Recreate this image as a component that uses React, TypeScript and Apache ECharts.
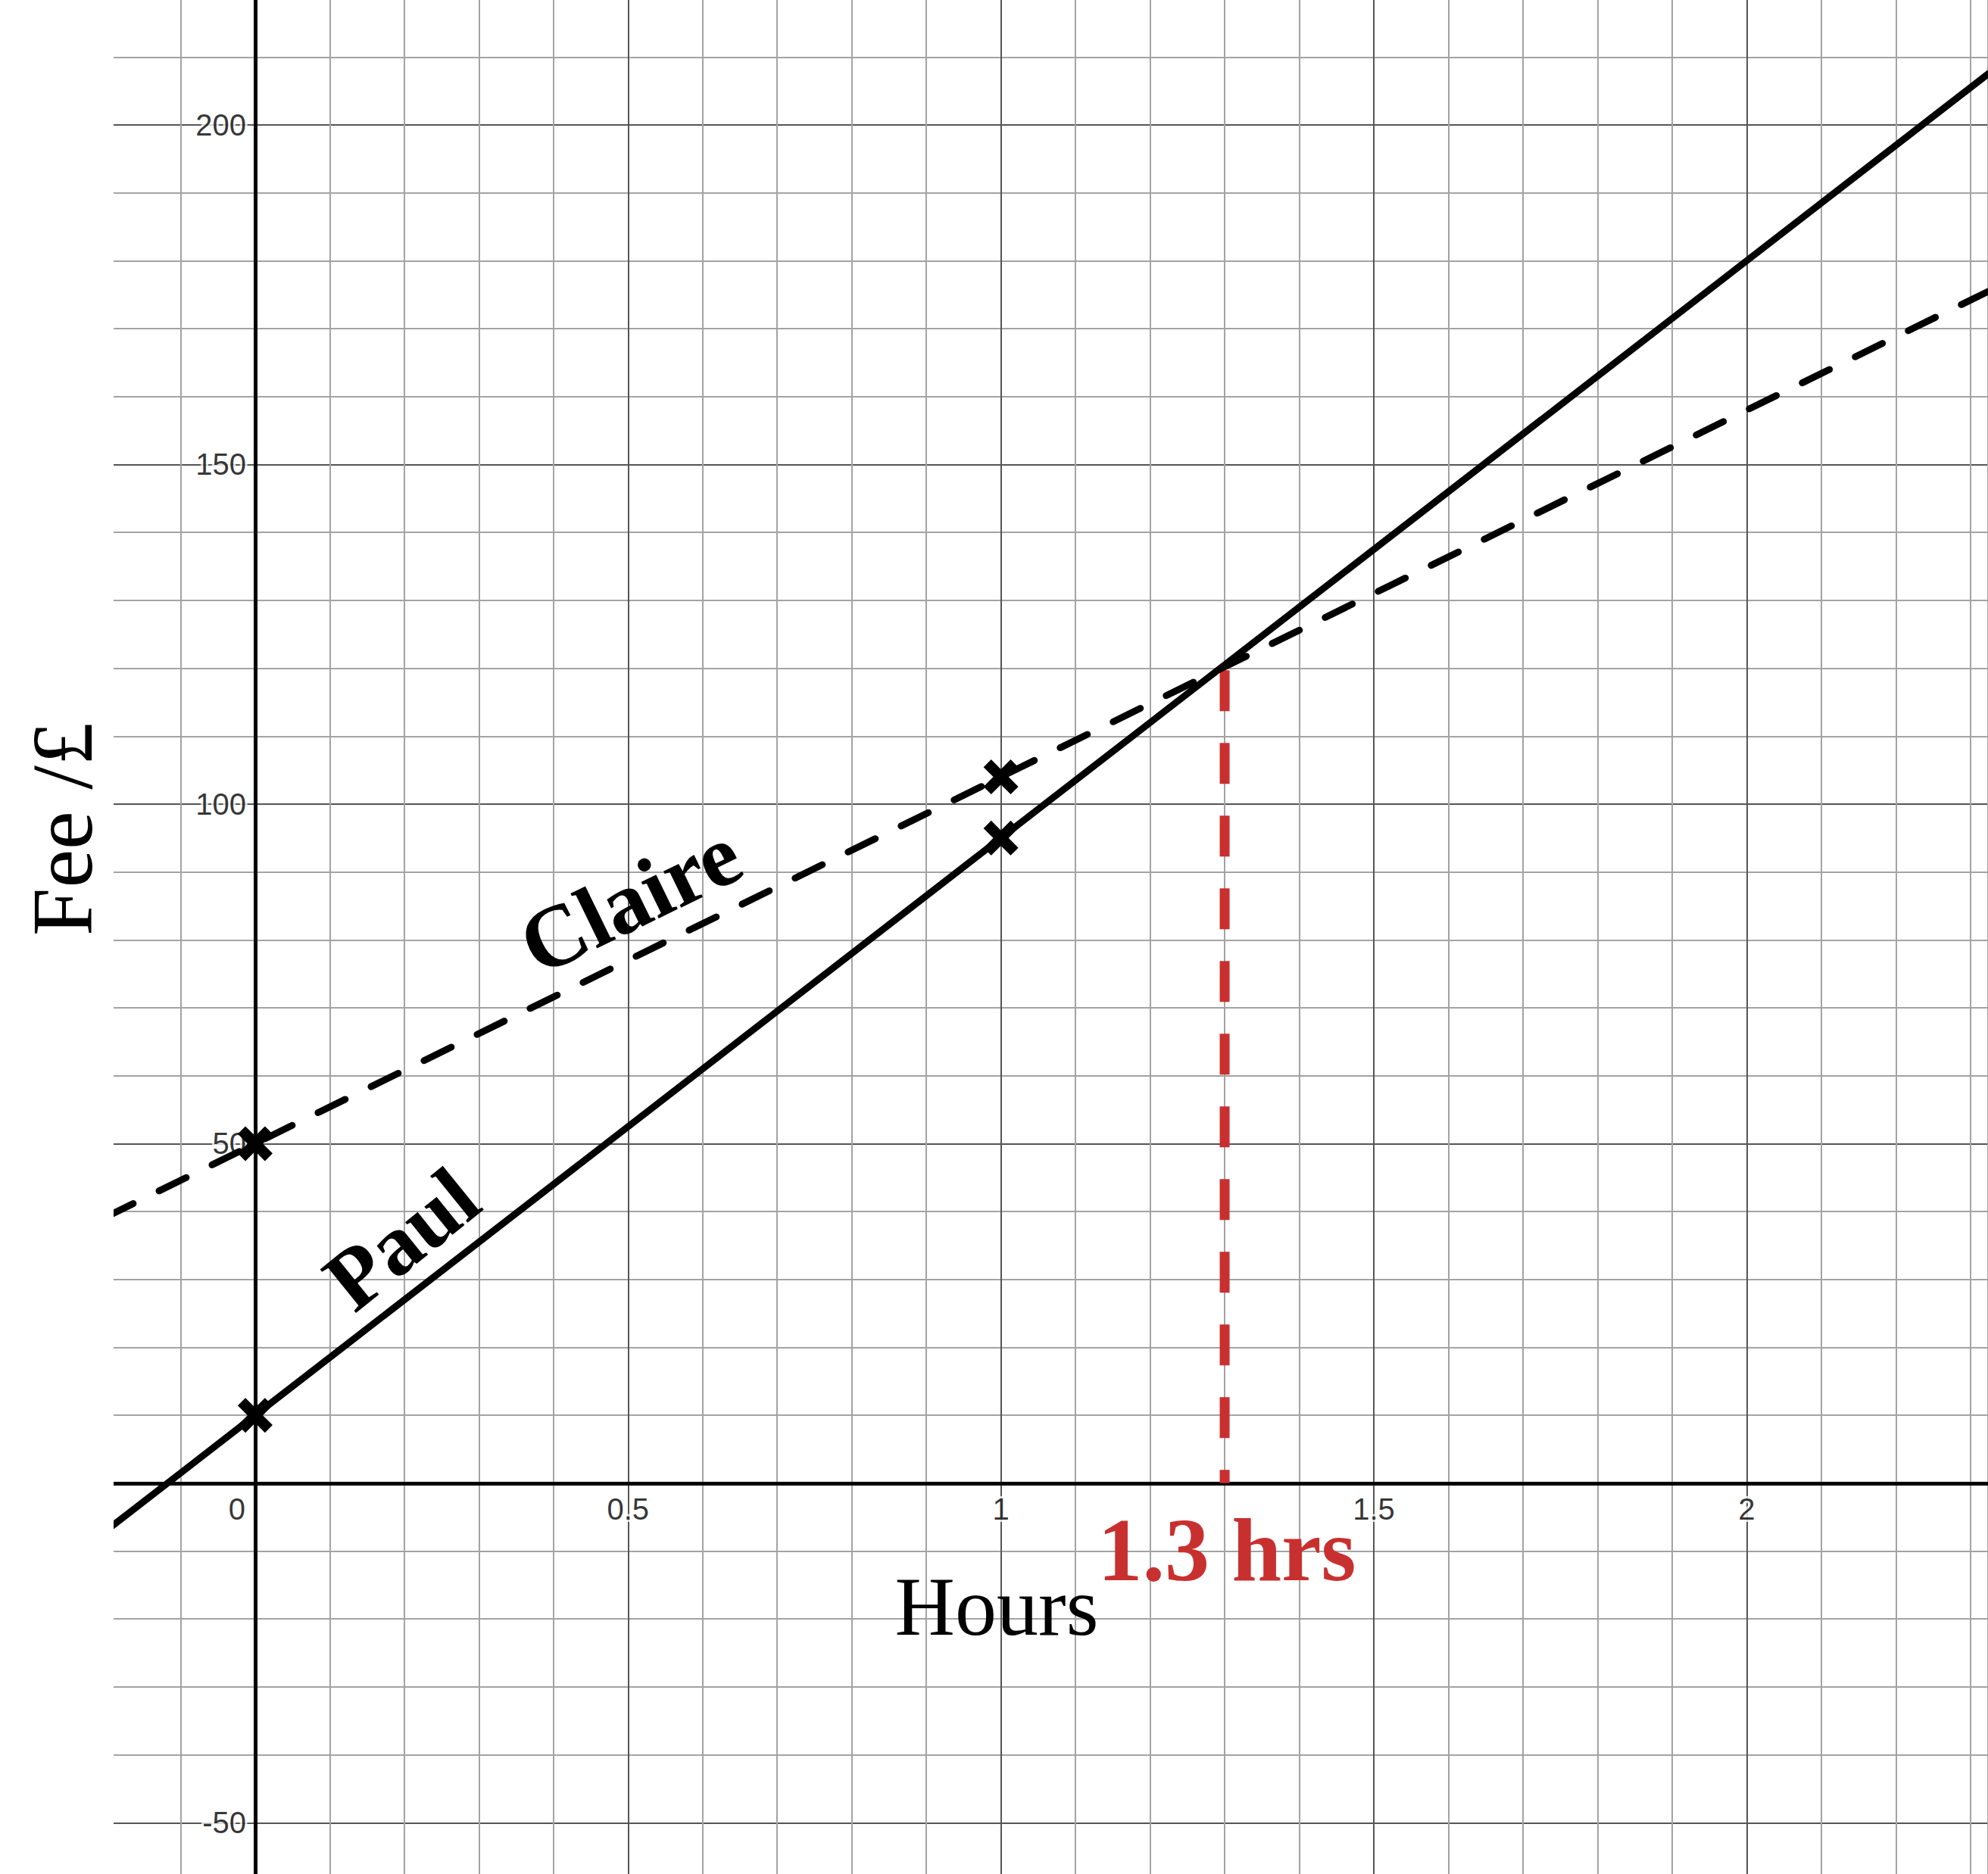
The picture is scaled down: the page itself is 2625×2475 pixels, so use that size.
import React, { useEffect, useRef } from 'react'
import * as echarts from 'echarts'

// values
const hours = [-0.2, 0, 1, 2.4]
const paulFee = [-7, 10, 95, 214]
const claireFee = [39.2, 50, 104, 179.6]

const markHours = [0, 1]
const paulMarks = [10, 95]
const claireMarks = [50, 104]

const meetHours = 1.3
const meetFee = 119.7

const xLabels = [0, 0.5, 1, 1.5, 2]
const yLabels = [-50, 50, 100, 150, 200]

const MINOR = '#a3a3a3'
const MAJOR = '#555555'
const RED = '#c8302f'
const SERIF = '"Liberation Serif", "DejaVu Serif", serif'
const SANS = '"Liberation Sans", Arial, sans-serif'

const CROSS = 'path://M0,22L22,0L50,28L78,0L100,22L72,50L100,78L78,100L50,72L22,100L0,78L28,50Z'

const labelStyle = {
    fontFamily: SANS,
    fontSize: 40,
    color: '#000',
    textBorderColor: '#fff',
    textBorderWidth: 6,
}

const App: React.FC = () => {
    const chartRef = useRef<HTMLDivElement>(null)

    useEffect(() => {
        if (!chartRef.current) {
            return
        }
        const chart = echarts.init(chartRef.current, null, { renderer: 'svg' })

        const pair = (xs: number[], ys: number[]) => xs.map((x, i) => [x, ys[i]])

        const text = (t: string, x: number, y: number, opts: any = {}) => ({
            type: 'text',
            x,
            y,
            rotation: opts.rotation || 0,
            z: 101,
            silent: true,
            style: {
                text: t,
                fontFamily: SERIF,
                fontSize: opts.size || 110,
                fontWeight: opts.weight || 'normal',
                fill: opts.color || '#000',
                textAlign: 'center',
                textVerticalAlign: 'middle',
                align: 'center',
                verticalAlign: 'middle',
            },
        })

        const option = {
            animation: false,
            backgroundColor: '#fff',
            grid: {
                left: 140,
                top: 0,
                width: 2485,
                height: 2497,
                containLabel: false,
                outerBoundsMode: 'none',
            },
            xAxis: {
                type: 'value',
                min: -0.2,
                max: 2.3236,
                interval: 0.1,
                axisLine: { onZero: true, lineStyle: { color: '#000', width: 5 } },
                axisTick: { show: false },
                axisLabel: { show: false },
                splitLine: {
                    show: true,
                    lineStyle: { color: [MINOR, MINOR, MAJOR, MINOR, MINOR], width: 2 },
                },
            },
            yAxis: {
                type: 'value',
                min: -60,
                max: 218.4,
                interval: 10,
                axisLine: { onZero: true, lineStyle: { color: '#000', width: 5 } },
                axisTick: { show: false },
                axisLabel: { show: false },
                splitLine: {
                    show: true,
                    showMaxLine: false,
                    lineStyle: { color: [MINOR, MAJOR, MINOR, MINOR, MINOR], width: 2 },
                },
            },
            series: [
                {
                    name: 'xTicks',
                    type: 'scatter',
                    data: xLabels.map((v) => [v, 0]),
                    symbolSize: 0,
                    z: 1,
                    silent: true,
                    itemStyle: { color: 'rgba(0,0,0,0)' },
                    label: {
                        show: true,
                        position: 'bottom',
                        distance: 14,
                        ...labelStyle,
                        formatter: (p: any) => String(p.value[0]),
                    },
                    labelLayout: (p: any) => (p.dataIndex === 0 ? { dx: -24 } : {}),
                },
                {
                    name: 'yTicks',
                    type: 'scatter',
                    data: yLabels.map((v) => [0, v]),
                    symbolSize: 0,
                    z: 1,
                    silent: true,
                    itemStyle: { color: 'rgba(0,0,0,0)' },
                    label: {
                        show: true,
                        position: 'left',
                        distance: 12,
                        ...labelStyle,
                        formatter: (p: any) => String(p.value[1]),
                    },
                },
                {
                    name: 'meet',
                    type: 'line',
                    data: [
                        [meetHours, meetFee],
                        [meetHours, 0],
                    ],
                    symbol: 'none',
                    z: 2,
                    lineStyle: { color: RED, width: 13, type: [54, 42], cap: 'butt' },
                },
                {
                    name: 'Paul',
                    type: 'line',
                    data: pair(hours, paulFee),
                    symbol: 'none',
                    z: 3,
                    lineStyle: { color: '#000', width: 9 },
                },
                {
                    name: 'Claire',
                    type: 'line',
                    data: pair(hours, claireFee),
                    symbol: 'none',
                    z: 3,
                    lineStyle: { color: '#000', width: 9, type: [40, 38], cap: 'round' },
                },
                {
                    name: 'marks',
                    type: 'scatter',
                    data: [...pair(markHours, paulMarks), ...pair(markHours, claireMarks)],
                    symbol: CROSS,
                    symbolSize: 46,
                    z: 5,
                    itemStyle: { color: '#000', opacity: 1 },
                },
            ],
            graphic: {
                elements: [
                    {
                        type: 'rect',
                        shape: { x: 0, y: 0, width: 150, height: 2475 },
                        style: { fill: '#fff' },
                        z: 100,
                        silent: true,
                    },
                    text('Fee /£', 82, 1095, { size: 114, rotation: Math.PI / 2 }),
                    text('Hours', 1316, 2122),
                    text('1.3 hrs', 1620, 2047, { size: 118, weight: 'bold', color: RED }),
                    text('Claire', 832, 1188, { size: 116, weight: 'bold', rotation: (26 * Math.PI) / 180 }),
                    text('Paul', 530, 1636, { size: 114, weight: 'bold', rotation: (39 * Math.PI) / 180 }),
                ],
            },
        }

        chart.setOption(option as any)

        const handleResize = () => {
            chart.resize()
        }
        window.addEventListener('resize', handleResize)

        return () => {
            window.removeEventListener('resize', handleResize)
            chart.dispose()
        }
    }, [])

    return (
        <div
            ref={chartRef}
            style={{ position: 'fixed', left: 0, top: 0, width: '2625px', height: '2475px', background: '#fff' }}
        />
    )
}

export default App
